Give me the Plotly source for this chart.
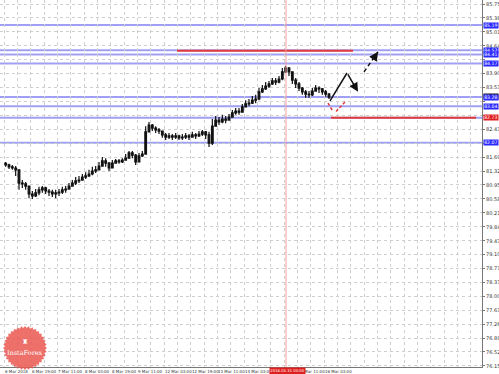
import numpy as np
import plotly.graph_objects as go

# ---------------- data (2-hour bars, hours since 6 Mar 03:00) ----------------
bar_hours = [1 + 2 * i for i in range(98)]
first_open = 81.52
closes = [81.48, 81.43, 81.40, 81.35, 81.00, 80.98, 80.92, 80.71, 80.66, 80.74,
          80.82, 80.87, 80.79, 80.76, 80.71, 80.74, 80.76, 80.82, 80.84, 80.92,
          81.00, 81.06, 81.08, 81.16, 81.19, 81.24, 81.32, 81.35, 81.45, 81.59,
          81.53, 81.40, 81.53, 81.59, 81.56, 81.61, 81.66, 81.80, 81.74, 81.56,
          81.72, 81.77, 82.36, 82.54, 82.46, 82.41, 82.38, 82.28, 82.22, 82.25,
          82.22, 82.25, 82.20, 82.22, 82.25, 82.22, 82.28, 82.25, 82.30, 82.36,
          82.28, 82.06, 82.51, 82.67, 82.62, 82.70, 82.67, 82.75, 82.86, 82.91,
          82.88, 83.02, 83.10, 83.12, 83.20, 83.23, 83.42, 83.50, 83.57, 83.63,
          83.71, 83.68, 83.76, 83.95, 84.05, 83.95, 83.73, 83.63, 83.52, 83.42,
          83.36, 83.34, 83.44, 83.52, 83.50, 83.42, 83.36, 83.28]
highs = [81.56, 81.51, 81.48, 81.45, 81.36, 81.08, 81.03, 80.93, 80.79, 80.84,
         80.90, 80.92, 80.90, 80.84, 80.82, 80.82, 80.84, 80.90, 80.92, 81.00,
         81.08, 81.16, 81.19, 81.24, 81.29, 81.35, 81.43, 81.45, 81.56, 81.69,
         81.66, 81.56, 81.61, 81.64, 81.64, 81.66, 81.77, 81.85, 81.85, 81.77,
         81.80, 81.85, 82.51, 82.62, 82.57, 82.51, 82.46, 82.38, 82.33, 82.33,
         82.30, 82.33, 82.28, 82.30, 82.33, 82.30, 82.36, 82.33, 82.38, 82.41,
         82.38, 82.36, 82.70, 82.78, 82.75, 82.81, 82.78, 82.83, 82.94, 82.99,
         82.99, 83.10, 83.20, 83.23, 83.31, 83.34, 83.52, 83.60, 83.68, 83.71,
         83.79, 83.79, 83.84, 84.05, 84.11, 84.08, 83.95, 83.79, 83.68, 83.55,
         83.47, 83.44, 83.52, 83.60, 83.57, 83.52, 83.47, 83.39]
lows = [81.43, 81.37, 81.35, 81.19, 80.82, 80.87, 80.82, 80.60, 80.58, 80.63,
        80.68, 80.74, 80.71, 80.66, 80.63, 80.60, 80.66, 80.71, 80.74, 80.82,
        80.90, 80.95, 81.00, 81.06, 81.11, 81.16, 81.21, 81.27, 81.35, 81.45,
        81.43, 81.32, 81.40, 81.51, 81.51, 81.53, 81.59, 81.66, 81.66, 81.48,
        81.55, 81.69, 81.77, 82.35, 82.38, 82.33, 82.30, 82.20, 82.14, 82.17,
        82.14, 82.17, 82.14, 82.14, 82.17, 82.14, 82.20, 82.17, 82.22, 82.25,
        82.17, 81.96, 82.01, 82.50, 82.54, 82.59, 82.59, 82.65, 82.73, 82.81,
        82.81, 82.87, 83.02, 83.04, 83.10, 83.12, 83.20, 83.39, 83.47, 83.52,
        83.60, 83.60, 83.65, 83.73, 83.92, 83.84, 83.63, 83.52, 83.44, 83.34,
        83.26, 83.26, 83.31, 83.42, 83.39, 83.34, 83.29, 83.23]
opens = [first_open] + closes[:-1]

# horizontal levels
blue_levels = [85.19, 84.52, 84.41, 84.17, 83.28, 83.04, 82.73, 82.07]
red_segments = [(84.51, 103.8, 209.4), (82.73, 196.2, 283.2)]  # price, from hour, to hour
current_price = 83.30

# price axis labels
y_ticks = [85.75, 85.38, 85.01, 84.64, 84.27, 83.90, 83.53, 83.17, 82.80, 82.43,
           82.06, 81.69, 81.32, 80.95, 80.58, 80.21, 79.84, 79.47, 79.10, 78.73,
           78.37, 78.00, 77.63, 77.26, 76.89, 76.52, 76.15]
hidden_ticks = [84.27, 83.17, 82.80, 82.06]

# time axis labels (the 14 Mar 19:00 one sits under the cursor label)
x_label_hours = [0, 16, 32, 48, 64, 80, 96, 112, 128, 144, 176, 192]
x_labels = ["6 Mar 2018", "6 Mar 19:00", "7 Mar 11:00", "8 Mar 03:00", "8 Mar 19:00",
            "9 Mar 11:00", "12 Mar 03:00", "12 Mar 19:00", "13 Mar 11:00",
            "14 Mar 03:00", "15 Mar 11:00", "16 Mar 03:00"]
cursor_hour = 169.2
cursor_label = "2018.03.15 05:00"

# forecast drawing (hour, price)
black_path = [(195.6, 83.18), (205.8, 83.92), (212.4, 83.42)]
black_dash = [(216.0, 83.95), (224.4, 84.48)]
red_dash = [(194.4, 83.12), (197.4, 82.90), (199.2, 82.90), (204.6, 83.15)]

X_RANGE = [-2.4, 286.8]
Y_RANGE = [76.121, 85.856]

fig = go.Figure()

fig.add_trace(go.Candlestick(
    x=bar_hours, open=opens, high=highs, low=lows, close=closes,
    increasing=dict(line=dict(color="#111111", width=1.2), fillcolor="#111111"),
    decreasing=dict(line=dict(color="#111111", width=1.2), fillcolor="#111111"),
    whiskerwidth=0, showlegend=False, hoverinfo="skip"))

# horizontal levels
for lv in blue_levels:
    fig.add_shape(type="line", xref="paper", x0=0, x1=1, y0=lv, y1=lv,
                  line=dict(color="#9f9ff5", width=2), layer="below")
for p, h0, h1 in red_segments:
    fig.add_shape(type="line", x0=h0, x1=h1, y0=p, y1=p,
                  line=dict(color="#e03a3a", width=2))

# cursor vertical line
fig.add_shape(type="line", x0=cursor_hour, x1=cursor_hour, yref="paper", y0=0, y1=1,
              line=dict(color="#f4a0a0", width=1))

# forecast arrows
fig.add_trace(go.Scatter(x=[p[0] for p in black_path[:2]], y=[p[1] for p in black_path[:2]],
                         mode="lines", line=dict(color="#111111", width=1.5),
                         showlegend=False, hoverinfo="skip"))
fig.add_annotation(x=black_path[2][0], y=black_path[2][1], ax=black_path[1][0], ay=black_path[1][1],
                   xref="x", yref="y", axref="x", ayref="y", text="", showarrow=True,
                   arrowhead=2, arrowsize=1.2, arrowwidth=1.5, arrowcolor="#111111")
fig.add_trace(go.Scatter(x=[p[0] for p in black_dash], y=[p[1] for p in black_dash],
                         mode="lines", line=dict(color="#111111", width=1.5, dash="4px,3px"),
                         showlegend=False, hoverinfo="skip"))
fig.add_annotation(x=black_dash[1][0], y=black_dash[1][1], ax=-4, ay=6,
                   xref="x", yref="y", text="", showarrow=True,
                   arrowhead=2, arrowsize=1.2, arrowwidth=1.5, arrowcolor="#111111")
fig.add_trace(go.Scatter(x=[p[0] for p in red_dash[:2]], y=[p[1] for p in red_dash[:2]],
                         mode="lines", line=dict(color="#e03a3a", width=1.5, dash="3px,2px"),
                         showlegend=False, hoverinfo="skip"))
fig.add_trace(go.Scatter(x=[p[0] for p in red_dash[2:]], y=[p[1] for p in red_dash[2:]],
                         mode="lines", line=dict(color="#e03a3a", width=1.5, dash="3px,2px"),
                         showlegend=False, hoverinfo="skip"))
fig.add_annotation(x=red_dash[3][0], y=red_dash[3][1], ax=-3, ay=3,
                   xref="x", yref="y", text="", showarrow=True,
                   arrowhead=2, arrowsize=1.2, arrowwidth=1.5, arrowcolor="#e03a3a")

# price-axis highlighted labels
fig.add_annotation(xref="paper", x=1, xanchor="left", xshift=1, y=current_price, yref="y",
                   text=f"{current_price:.2f}", showarrow=False, bgcolor="#111111",
                   font=dict(size=4.6, color="white", family="DejaVu Sans"), borderpad=0.2)
for lv in blue_levels:
    is_red = any(abs(lv - s[0]) < 0.005 for s in red_segments)
    fig.add_annotation(xref="paper", x=1, xanchor="left", xshift=1, y=lv, yref="y",
                       text=f"{lv:.2f}", showarrow=False,
                       bgcolor="#e02020" if is_red else "#2a2aff",
                       font=dict(size=4.6, color="white", family="DejaVu Sans"), borderpad=0.2)

# time-axis labels
for h, t in zip(x_label_hours, x_labels):
    fig.add_annotation(x=h, xref="x", xanchor="left", xshift=-1, y=0, yref="paper",
                       yanchor="top", yshift=0, text=t, showarrow=False,
                       font=dict(size=4, color="#333333", family="DejaVu Sans"))
fig.add_annotation(x=cursor_hour, xref="x", xanchor="center", xshift=1, y=0, yref="paper",
                   yanchor="top", yshift=0, text=cursor_label, showarrow=False,
                   bgcolor="#e02020", font=dict(size=3.8, color="white", family="DejaVu Sans"),
                   borderpad=0.3)

# InstaForex watermark (starburst)
n = 72
ang = np.linspace(0, 2 * np.pi, n, endpoint=False)
rad = np.where(np.arange(n) % 2 == 0, 22.0, 20.0)
pts = [(r * np.cos(a), r * np.sin(a)) for r, a in zip(rad, ang)]
path = "M " + " L ".join(f"{x:.2f},{y:.2f}" for x, y in pts) + " Z"
fig.add_shape(type="path", path=path, xref="paper", yref="paper",
              xsizemode="pixel", ysizemode="pixel", xanchor=25 / 482, yanchor=1 - 348 / 367,
              fillcolor="rgba(234,88,80,0.85)", line=dict(width=0), layer="above")
fig.add_annotation(xref="paper", yref="paper", x=25 / 482, y=1 - 353 / 367, xanchor="center",
                   yanchor="middle", text="InstaForex", showarrow=False,
                   font=dict(size=6.5, color="white", family="DejaVu Serif"))
fig.add_annotation(xref="paper", yref="paper", x=25 / 482, y=1 - 342 / 367, xanchor="center",
                   yanchor="middle", text="♜", showarrow=False,
                   font=dict(size=7, color="white", family="DejaVu Sans"))

fig.update_layout(
    width=499, height=374, margin=dict(l=0, r=17, t=0, b=7),
    paper_bgcolor="white", plot_bgcolor="white", showlegend=False,
    xaxis=dict(range=X_RANGE, rangeslider=dict(visible=False), showticklabels=False,
               tickmode="linear", tick0=0, dtick=8, showgrid=True, gridcolor="#cfcfcf",
               griddash="dot", gridwidth=1, zeroline=False, showline=True,
               linecolor="#777777", linewidth=1, ticks=""),
    yaxis=dict(range=Y_RANGE, side="right", tickvals=y_ticks,
               ticktext=["" if v in hidden_ticks else f"{v:.2f}" for v in y_ticks],
               showgrid=True, gridcolor="#cfcfcf", griddash="dot", gridwidth=1,
               zeroline=False, showline=True, linecolor="#777777", linewidth=1,
               ticks="outside", ticklen=2, tickcolor="#777777",
               tickfont=dict(size=5, color="#333333", family="DejaVu Sans")),
)

fig.write_html("out.html")
